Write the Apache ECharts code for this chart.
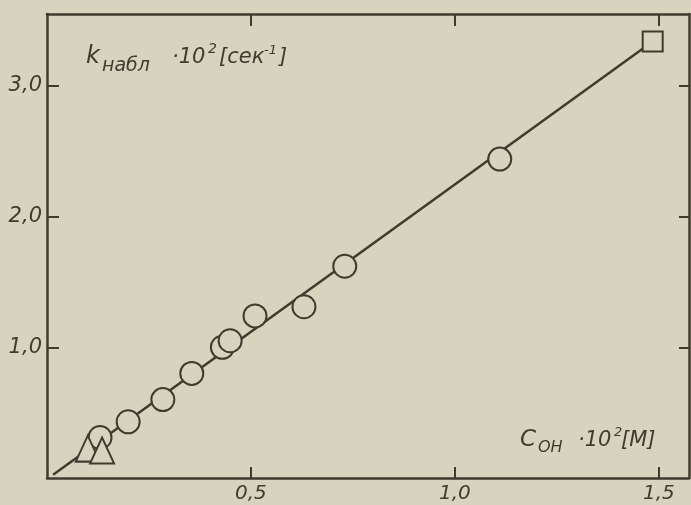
<!DOCTYPE html>
<html>
<head>
<meta charset="utf-8">
<script src="https://cdn.jsdelivr.net/npm/echarts@6/dist/echarts.min.js"></script>
<style>
html,body{margin:0;padding:0;background:#d8d3be;}
#c{width:691px;height:505px;}
</style>
</head>
<body>
<div id="c"></div>
<script>
// Data
const circleX = [0.13, 0.199, 0.284, 0.355, 0.43, 0.449, 0.51, 0.63, 0.73, 1.11];
const circleY = [0.31, 0.43, 0.60, 0.80, 1.00, 1.05, 1.24, 1.31, 1.62, 2.44];
const triangleX = [0.10, 0.135];
const triangleY = [0.225, 0.21];
const squareX = [1.485];
const squareY = [3.34];
const fitX = [0.015, 1.485];
const fitY = [0.025, 3.34];
const xTicks = [0.5, 1.0, 1.5];
const yTicks = [1.0, 2.0, 3.0];
const xTickLabels = ['0,5', '1,0', '1,5'];
const yTickLabels = ['1,0', '2,0', '3,0'];

const ink = '#3f3b2f';
const bg = '#d8d3be';
const font = '"DejaVu Sans", "Liberation Sans", sans-serif';
const zip = (a, b) => a.map((v, i) => [v, b[i]]);
const fmt = (ticks, labels) => v => { const i = ticks.findIndex(t => Math.abs(t - v) < 1e-6); return i >= 0 ? labels[i] : ''; };

const chart = echarts.init(document.getElementById('c'), null, {renderer: 'canvas'});
const axisCommon = {
  axisLine: {show: true, onZero: false, lineStyle: {color: ink, width: 2.5}},
  splitLine: {show: false}
};
const markStyle = {color: bg, borderColor: ink, borderWidth: 2, opacity: 1};
chart.setOption({
  backgroundColor: bg,
  animation: false,
  grid: {left: 47, right: 2, top: 14, bottom: 27, containLabel: false},
  xAxis: [
    Object.assign({type: 'value', position: 'bottom', min: 0, max: 1.574, interval: 0.5,
      axisTick: {show: true, inside: true, length: 11, customValues: xTicks, lineStyle: {color: ink, width: 2}},
      axisLabel: {show: true, customValues: xTicks, margin: 6, formatter: fmt(xTicks, xTickLabels),
        color: ink, fontSize: 20, fontStyle: 'italic', fontFamily: font}}, axisCommon),
    Object.assign({type: 'value', position: 'top', min: 0, max: 1.574, interval: 0.5,
      axisTick: {show: true, inside: true, length: 12, customValues: xTicks, lineStyle: {color: ink, width: 2}},
      axisLabel: {show: false}}, axisCommon)
  ],
  yAxis: [
    Object.assign({type: 'value', position: 'left', min: 0, max: 3.55, interval: 1,
      axisTick: {show: true, inside: true, length: 12, customValues: yTicks, lineStyle: {color: ink, width: 2}},
      axisLabel: {show: true, customValues: yTicks, margin: 5, formatter: fmt(yTicks, yTickLabels),
        color: ink, fontSize: 21, fontStyle: 'italic', fontFamily: font}}, axisCommon),
    Object.assign({type: 'value', position: 'right', min: 0, max: 3.55, interval: 1,
      axisTick: {show: true, inside: true, length: 10, customValues: yTicks, lineStyle: {color: ink, width: 2}},
      axisLabel: {show: false}}, axisCommon)
  ],
  series: [
    {type: 'line', data: zip(fitX, fitY), symbol: 'none', z: 1,
      lineStyle: {color: ink, width: 2.5}},
    {type: 'scatter', data: zip(circleX, circleY), symbol: 'circle', symbolSize: 23, z: 3, itemStyle: markStyle},
    {type: 'scatter', data: zip(triangleX, triangleY), symbol: 'triangle', symbolSize: [24, 26], z: 4, itemStyle: markStyle},
    {type: 'scatter', data: zip(squareX, squareY), symbol: 'rect', symbolSize: 20, z: 3, itemStyle: markStyle}
  ],
  graphic: [
    {type: 'text', left: 86, top: 45, style: {text: 'k', font: 'italic 24px ' + font, fill: ink}},
    {type: 'text', left: 102, top: 57, style: {text: 'набл', font: 'italic 19px ' + font, fill: ink}},
    {type: 'text', left: 172, top: 47, style: {text: '·10', font: 'italic 21px ' + font, fill: ink}},
    {type: 'text', left: 208, top: 42, style: {text: '2', font: 'italic 14px ' + font, fill: ink}},
    {type: 'text', left: 219, top: 47, style: {text: '[сек', font: 'italic 21px ' + font, fill: ink}},
    {type: 'text', left: 264, top: 44, style: {text: '-1', font: 'italic 13px ' + font, fill: ink}},
    {type: 'text', left: 279, top: 47, style: {text: ']', font: 'italic 21px ' + font, fill: ink}},

    {type: 'text', left: 520, top: 429, style: {text: 'C', font: 'italic 23px ' + font, fill: ink}},
    {type: 'text', left: 538, top: 440, style: {text: 'OH', font: 'italic 16px ' + font, fill: ink}},
    {type: 'text', left: 578, top: 430, style: {text: '·10', font: 'italic 21px ' + font, fill: ink}},
    {type: 'text', left: 614, top: 426, style: {text: '2', font: 'italic 13px ' + font, fill: ink}},
    {type: 'text', left: 621, top: 430, style: {text: '[M]', font: 'italic 21px ' + font, fill: ink}}
  ]
});
</script>
</body>
</html>
